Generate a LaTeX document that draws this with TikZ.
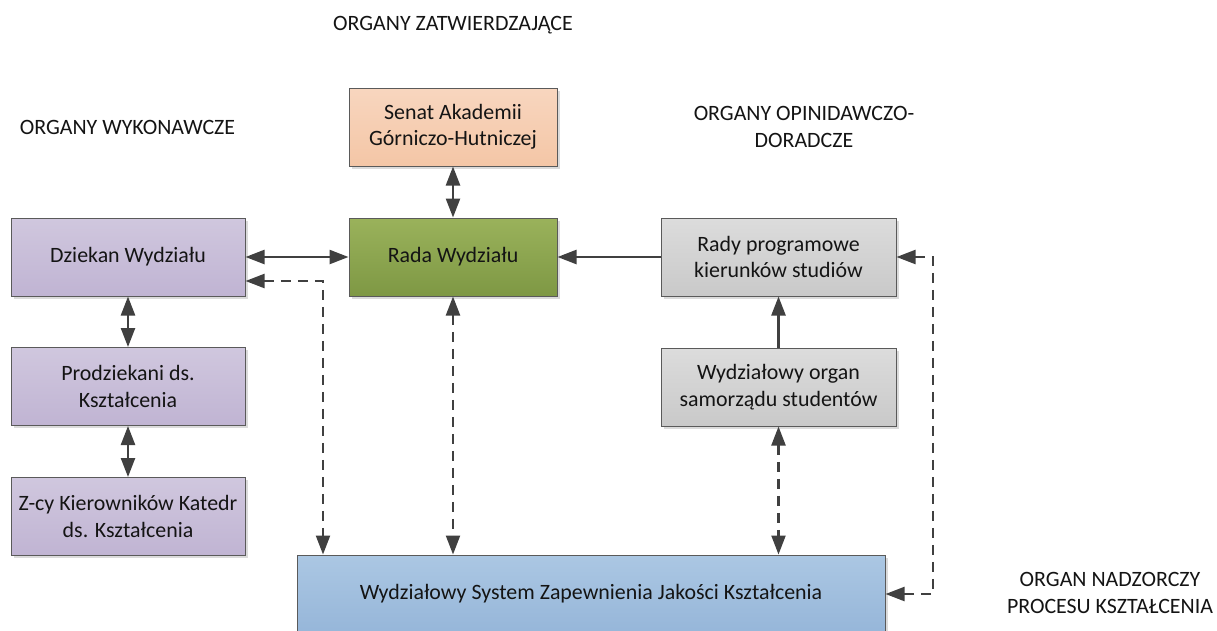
\documentclass[tikz,border=0pt]{standalone}
\usepackage{fontspec}
\setmainfont{Carlito}
\usetikzlibrary{arrows.meta,shadows}
\definecolor{ln}{HTML}{404040}
\definecolor{bord}{HTML}{5A5A5A}
\definecolor{txt}{HTML}{141414}
\definecolor{orT}{HTML}{F8D6BF}
\definecolor{orB}{HTML}{F4C6A6}
\definecolor{grT}{HTML}{9AB25B}
\definecolor{grB}{HTML}{7E9844}
\definecolor{puT}{HTML}{D0C7DE}
\definecolor{puB}{HTML}{C0B4D3}
\definecolor{gyT}{HTML}{DCDCDC}
\definecolor{gyB}{HTML}{C9C9C9}
\definecolor{blT}{HTML}{ABC7E3}
\definecolor{blB}{HTML}{96B6D9}
\begin{document}
\begin{tikzpicture}[x=1pt,y=-1pt,
  fnt/.style={font=\fontsize{21.9}{26.5}\selectfont},
  box/.style={fnt, draw=bord, line width=1pt, align=center, inner sep=0pt, text=txt,
    drop shadow={shadow xshift=2.5pt,shadow yshift=-2.5pt,fill=black!20,opacity=0.7}},
  title/.style={fnt, align=center, inner sep=0pt, text=txt},
  tip/.tip={Triangle[length=19pt,width=14pt]},
  conn/.style={draw=ln, line width=2.4pt, arrows={-tip}},
  conn2/.style={draw=ln, line width=2.4pt, arrows={tip-tip}},
  dconn2/.style={conn2, line width=2.2pt, dash pattern=on 10pt off 7pt}
]
\useasboundingbox (0,0) rectangle (1217,630);
\fill[white] (0,0) rectangle (1217,630);
\clip (0,0) rectangle (1217,630);

% titles
\node[title, anchor=base] (tz) at (453,30) {ORGANY ZATWIERDZAJĄCE};
\node[title, anchor=base] (tw) at (127.5,134) {ORGANY WYKONAWCZE};
\node[title] (to) at (804,127) {ORGANY OPINIDAWCZO-\\DORADCZE};
\node[title] (tn) at (1110,593) {ORGAN NADZORCZY\\PROCESU KSZTAŁCENIA};

% boxes
\node[box, top color=orT, bottom color=orB, minimum width=208pt, minimum height=78pt] (senat) at (453,127) {Senat Akademii\\Górniczo-Hutniczej};
\node[box, top color=grT, bottom color=grB, minimum width=208pt, minimum height=78pt] (rada) at (453,257) {Rada Wydziału};
\node[box, top color=puT, bottom color=puB, minimum width=234pt, minimum height=78pt] (dziekan) at (128,257) {Dziekan Wydziału};
\node[box, top color=puT, bottom color=puB, minimum width=234pt, minimum height=78pt] (prodz) at (128,386.5) {Prodziekani ds.\\Kształcenia};
\node[box, top color=puT, bottom color=puB, minimum width=234pt, minimum height=78pt] (zcy) at (128,516.5) {Z-cy Kierowników Katedr\\ds. Kształcenia};
\node[box, top color=gyT, bottom color=gyB, minimum width=235pt, minimum height=78pt] (rady) at (778.5,257) {Rady programowe\\kierunków studiów};
\node[box, top color=gyT, bottom color=gyB, minimum width=235pt, minimum height=78pt] (organ) at (778.5,387) {Wydziałowy organ\\samorządu studentów};
\node[box, top color=blT, bottom color=blB, minimum width=588pt, minimum height=78pt] (wszjk) at (591,594) {Wydziałowy System Zapewnienia Jakości Kształcenia};

% coordinates for dashed routes
\coordinate (dzE) at ([yshift=-24pt]dziekan.east);
\coordinate (dzC) at (323,0);
\coordinate (wsL) at (wszjk.north west -| dzC);
\coordinate (rdE) at (rady.east);
\coordinate (rtC) at (933,0);
\coordinate (wsE) at (wszjk.east);

% solid connectors
\draw[conn2] (senat.south) -- (rada.north);
\draw[conn2] (dziekan.east) -- (rada.west);
\draw[conn] (rady.west) -- (rada.east);
\draw[conn] (organ.north) -- (rady.south);
\draw[conn2] (dziekan.south) -- (prodz.north);
\draw[conn2] (prodz.south) -- (zcy.north);

% dashed connectors
\draw[dconn2] (dzE) -| (wsL);
\draw[dconn2] (rada.south) -- (rada.south |- wszjk.north);
\draw[dconn2] (organ.south) -- (organ.south |- wszjk.north);
\draw[dconn2] (rdE) -| (rtC |- wsE) -- (wsE);
\end{tikzpicture}
\end{document}
